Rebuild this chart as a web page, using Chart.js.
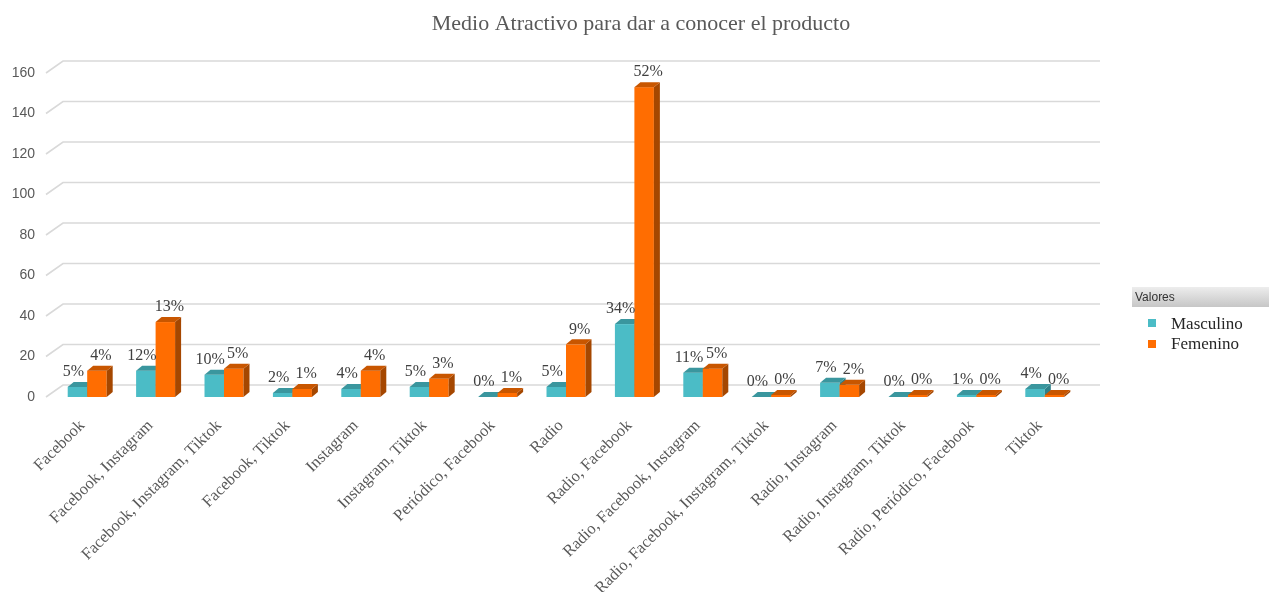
<!DOCTYPE html>
<html>
<head>
<meta charset="utf-8">
<script src="https://cdn.jsdelivr.net/npm/chart.js@4/dist/chart.umd.min.js"></script>
<style>
  html, body { margin: 0; padding: 0; background: #ffffff; }
  #wrap { width: 1269px; height: 592px; position: relative; }
</style>
</head>
<body>
<div id="wrap"><canvas id="c" width="1269" height="592"></canvas></div>
<script>
// ---- data ----
const titleText = 'Medio Atractivo para dar a conocer el producto';
const categories = [
  'Facebook', 'Facebook, Instagram', 'Facebook, Instagram, Tiktok', 'Facebook, Tiktok',
  'Instagram', 'Instagram, Tiktok', 'Periódico, Facebook', 'Radio', 'Radio, Facebook',
  'Radio, Facebook, Instagram', 'Radio, Facebook, Instagram, Tiktok', 'Radio, Instagram',
  'Radio, Instagram, Tiktok', 'Radio, Periódico, Facebook', 'Tiktok'
];
const seriesNames = ['Masculino', 'Femenino'];
const masculino = [5, 13, 11, 2, 4, 5, 0, 5, 36, 12, 0, 7, 0, 1, 4];
const femenino  = [13, 37, 14, 4, 13, 9, 2, 26, 153, 14, 1, 6, 1, 1, 1];
const pctMasculino = ['5%', '12%', '10%', '2%', '4%', '5%', '0%', '5%', '34%', '11%', '0%', '7%', '0%', '1%', '4%'];
const pctFemenino  = ['4%', '13%', '5%', '1%', '4%', '3%', '1%', '9%', '52%', '5%', '0%', '2%', '0%', '0%', '0%'];
const legendTitle = 'Valores';
const yMin = 0, yMax = 160, yStep = 20;

// ---- styles ----
const colors = {
  m: { front: '#4BBCC6', top: '#3A969E', side: '#2F8088' },
  f: { front: '#FF6D01', top: '#C85600', side: '#A54700' }
};
const DX = 6, DY = 5;
const SERIF = '"Liberation Serif", "Times New Roman", serif';
const SANS = '"Liberation Sans", Arial, sans-serif';

const gridPlugin = {
  id: 'grid3d',
  beforeDatasetsDraw(chart) {
    const ctx = chart.ctx, y = chart.scales.y, a = chart.chartArea;
    ctx.save();
    ctx.strokeStyle = '#d9d9d9';
    ctx.lineWidth = 1.6;
    y.ticks.forEach(t => {
      const py = y.getPixelForValue(t.value);
      ctx.beginPath();
      ctx.moveTo(a.left - 7, py);
      ctx.lineTo(a.left + 10, py - 12);
      ctx.lineTo(a.right + 21, py - 12);
      ctx.stroke();
    });
    ctx.restore();
  }
};

const bar3dPlugin = {
  id: 'bar3d',
  afterDatasetsDraw(chart) {
    const ctx = chart.ctx;
    ctx.save();
    chart.data.datasets.forEach((ds, di) => {
      const meta = chart.getDatasetMeta(di);
      const col = di === 0 ? colors.m : colors.f;
      meta.data.forEach(el => {
        const w = el.width, l = el.x - w / 2, r = el.x + w / 2, top = el.y, base = el.base;
        ctx.fillStyle = col.front;
        ctx.fillRect(l, top, w, base - top);
        ctx.fillStyle = col.side;
        ctx.beginPath();
        ctx.moveTo(r, top); ctx.lineTo(r + DX, top - DY); ctx.lineTo(r + DX, base - DY); ctx.lineTo(r, base);
        ctx.closePath(); ctx.fill();
        ctx.fillStyle = col.top;
        ctx.beginPath();
        ctx.moveTo(l, top); ctx.lineTo(l + DX, top - DY); ctx.lineTo(r + DX, top - DY); ctx.lineTo(r, top);
        ctx.closePath(); ctx.fill();
      });
    });
    ctx.font = '16px ' + SERIF;
    ctx.fillStyle = '#404040';
    ctx.textAlign = 'center';
    ctx.textBaseline = 'bottom';
    chart.data.datasets.forEach((ds, di) => {
      const meta = chart.getDatasetMeta(di);
      const labels = di === 0 ? pctMasculino : pctFemenino;
      meta.data.forEach((el, i) => {
        const off = di === 0 ? -4 : 4;
        ctx.fillText(labels[i], el.x + off, el.y - 7);
      });
    });
    ctx.restore();
  }
};

const chromePlugin = {
  id: 'chrome',
  afterDraw(chart) {
    const ctx = chart.ctx;
    ctx.save();
    ctx.font = '22px ' + SERIF;
    ctx.fillStyle = '#595959';
    ctx.textAlign = 'center';
    ctx.textBaseline = 'middle';
    ctx.fillText(titleText, 641, 24);
    const g = ctx.createLinearGradient(0, 287, 0, 307);
    g.addColorStop(0, '#ededed');
    g.addColorStop(1, '#c6c6c6');
    ctx.fillStyle = g;
    ctx.fillRect(1132, 287, 137, 20);
    ctx.font = '12px ' + SANS;
    ctx.fillStyle = '#333333';
    ctx.textAlign = 'left';
    ctx.fillText(legendTitle, 1135, 298);
    const sw = [colors.m.front, colors.f.front];
    seriesNames.forEach((n, i) => {
      const yy = 325 + i * 20;
      ctx.fillStyle = sw[i];
      ctx.fillRect(1148, yy - 6 + i * 1, 8, 8);
      ctx.font = '17px ' + SERIF;
      ctx.fillStyle = '#262626';
      ctx.fillText(n, 1171, yy);
    });
    ctx.restore();
  }
};

new Chart(document.getElementById('c'), {
  type: 'bar',
  data: {
    labels: categories,
    datasets: [
      { label: seriesNames[0], data: masculino, backgroundColor: 'rgba(0,0,0,0)' },
      { label: seriesNames[1], data: femenino, backgroundColor: 'rgba(0,0,0,0)' }
    ]
  },
  options: {
    responsive: false,
    animation: false,
    events: [],
    layout: { padding: { top: 73, right: 190, left: 0, bottom: 0 } },
    plugins: { legend: { display: false }, title: { display: false }, tooltip: { enabled: false } },
    datasets: { bar: { categoryPercentage: 0.57, barPercentage: 1.0 } },
    scales: {
      x: {
        grid: { display: false },
        border: { display: false },
        ticks: {
          autoSkip: false, minRotation: 45, maxRotation: 45, padding: 11, labelOffset: -5,
          color: '#595959', font: { family: SERIF, size: 16.5 }
        },
        afterFit(s) { s.height = 195; }
      },
      y: {
        min: yMin, max: yMax,
        grid: { display: false },
        border: { display: false },
        ticks: { stepSize: yStep, padding: 10, color: '#595959', font: { family: SANS, size: 14 } },
        afterFit(s) { s.width = 53; }
      }
    }
  },
  plugins: [gridPlugin, bar3dPlugin, chromePlugin]
});
</script>
</body>
</html>
